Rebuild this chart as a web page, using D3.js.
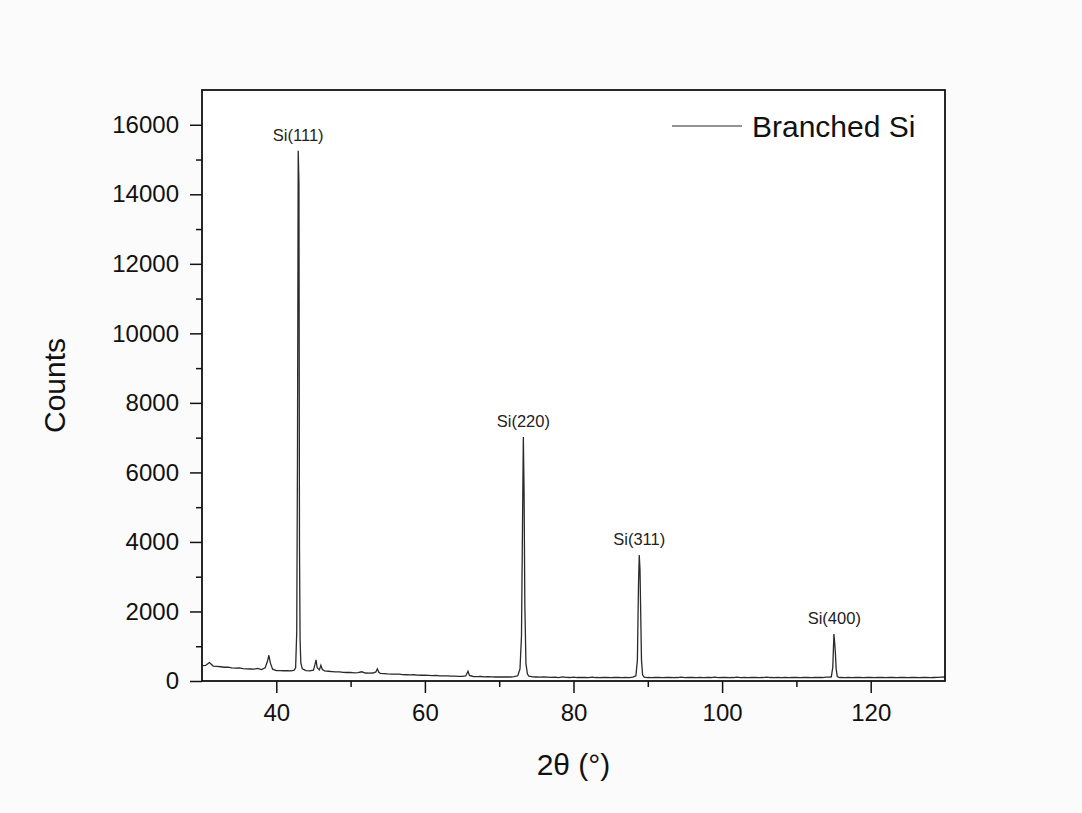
<!DOCTYPE html>
<html><head><meta charset="utf-8">
<script src="https://cdn.jsdelivr.net/npm/d3@7"></script>
<style>html,body{margin:0;padding:0;background:#fbfbfb;}svg{display:block;}</style>
</head><body>
<svg id="chart" width="1082" height="813"></svg>
<script>
// ---- data ----
const twoTheta = [
30.0,30.5,31.0,31.5,32.0,32.5,33.0,33.5,34.0,34.5,35.0,35.5,36.0,36.5,37.0,37.5,38.0,38.5,38.8,39.0,39.2,39.5,
40.0,40.5,41.0,41.5,42.0,42.4,42.6,42.75,42.85,42.95,43.05,43.12,43.2,43.3,43.5,44.0,44.5,45.0,45.2,45.35,45.5,45.8,46.0,46.2,46.5,
47.0,47.5,48.0,48.5,49.0,49.5,50.0,50.5,51.0,51.5,52.0,52.5,53.0,53.4,53.6,53.8,54.0,54.5,55.0,55.5,56.0,56.5,57.0,57.5,58.0,58.5,59.0,59.5,
60.0,60.5,61.0,61.5,62.0,62.5,63.0,63.5,64.0,64.5,65.0,65.5,65.8,66.0,66.5,67.0,67.5,68.0,68.5,69.0,69.5,70.0,70.5,71.0,71.5,72.0,72.5,72.8,
73.0,73.15,73.25,73.35,73.45,73.6,73.8,74.0,74.5,75.0,75.5,76.0,76.5,77.0,77.5,78.0,78.5,79.0,79.5,
80.0,80.5,81.0,81.5,82.0,82.5,83.0,83.5,84.0,84.5,85.0,85.5,86.0,86.5,87.0,87.5,88.0,88.4,88.6,88.75,88.85,88.95,89.05,89.15,89.3,89.5,
90.0,90.5,91.0,91.5,92.0,92.5,93.0,93.5,94.0,94.5,95.0,95.5,96.0,96.5,97.0,97.5,98.0,98.5,99.0,99.5,
100.0,100.5,101.0,101.5,102.0,102.5,103.0,103.5,104.0,104.5,105.0,105.5,106.0,106.5,107.0,107.5,108.0,108.5,109.0,109.5,
110.0,110.5,111.0,111.5,112.0,112.5,113.0,113.5,114.0,114.5,114.7,114.9,115.05,115.15,115.25,115.35,115.5,115.8,
116.0,116.5,117.0,117.5,118.0,118.5,119.0,119.5,120.0,120.5,121.0,121.5,122.0,122.5,123.0,123.5,124.0,124.5,
125.0,125.5,126.0,126.5,127.0,127.5,128.0,128.5,129.0,129.5,130.0
];
const counts = [
440,450,530,430,420,410,395,400,380,370,375,355,350,345,340,360,330,380,560,740,520,340,
300,300,295,300,290,310,380,1400,6400,15250,14300,3900,1200,520,350,300,290,310,470,610,380,320,450,330,290,
280,270,260,265,250,245,250,235,240,265,230,225,230,260,350,250,220,215,205,200,195,200,185,180,175,180,170,165,
165,160,155,160,150,145,150,140,140,135,135,145,280,160,130,125,130,120,125,120,115,120,115,120,115,125,150,350,
1300,4800,7020,5400,2200,500,200,140,120,115,110,115,110,105,110,100,120,105,100,
110,100,105,100,95,110,100,95,105,100,95,100,105,95,100,95,110,150,600,2800,3620,3200,1900,600,180,110,
100,95,105,100,95,100,105,95,100,110,95,100,105,95,100,95,105,100,110,95,
100,105,95,100,110,95,100,95,105,100,95,100,110,100,95,105,95,100,95,105,
100,95,100,105,95,100,105,100,110,115,120,400,1350,1100,800,350,130,100,
105,95,100,95,105,100,95,100,105,95,100,100,95,105,100,95,100,105,
95,100,100,95,105,100,95,100,105,110,115
];
const peakLabels = ["Si(111)","Si(220)","Si(311)","Si(400)"];
const peakTheta  = [42.95, 73.25, 88.85, 115.1];
const peakCounts = [15250, 7020, 3620, 1350];
const xTicks = [40,60,80,100,120];
const yTicks = [0,2000,4000,6000,8000,10000,12000,14000,16000];
const seriesName = "Branched Si";

// ---- drawing ----
const svg = d3.select("#chart");
const m = {left:202, top:90, right:1082-945, bottom:813-681};
const W = 1082 - m.left - m.right, H = 813 - m.top - m.bottom;
const font = "'Liberation Sans', Arial, sans-serif";
const g = svg.append("g").attr("transform",`translate(${m.left},${m.top})`);

const x = d3.scaleLinear().domain([30,130]).range([0,W]);
const y = d3.scaleLinear().domain([0,17000]).range([H,0]);

g.append("rect").attr("width",W).attr("height",H).attr("fill","#ffffff");

const data = twoTheta.map((t,i)=>({t, c:counts[i]}));
g.append("path").datum(data)
  .attr("fill","none").attr("stroke","#2a2a2a").attr("stroke-width",1.3)
  .attr("d", d3.line().x(d=>x(d.t)).y(d=>y(d.c)));

// minor ticks
const xMinor = d3.range(30,131,10).filter(v=>!xTicks.includes(v) && v>30 && v<130);
g.append("g").attr("transform",`translate(0,${H})`)
  .call(d3.axisBottom(x).tickValues(xMinor).tickSize(6).tickFormat(""))
  .call(a=>a.select(".domain").remove())
  .selectAll("line").attr("stroke","#111").attr("stroke-width",1.5);
const yMinor = d3.range(1000,17000,2000);
g.append("g")
  .call(d3.axisLeft(y).tickValues(yMinor).tickSize(6).tickFormat(""))
  .call(a=>a.select(".domain").remove())
  .selectAll("line").attr("stroke","#111").attr("stroke-width",1.5);

// major axes
const xa = g.append("g").attr("transform",`translate(0,${H})`)
  .call(d3.axisBottom(x).tickValues(xTicks).tickSize(12).tickPadding(11).tickSizeOuter(0));
const ya = g.append("g")
  .call(d3.axisLeft(y).tickValues(yTicks).tickSize(12).tickPadding(11).tickSizeOuter(0).tickFormat(d3.format("d")));
[xa,ya].forEach(a=>{
  a.select(".domain").remove();
  a.selectAll("line").attr("stroke","#111").attr("stroke-width",1.5);
  a.selectAll("text").attr("font-family",font).attr("font-size",24).attr("fill","#111");
});

// frame
g.append("rect").attr("width",W).attr("height",H)
  .attr("fill","none").attr("stroke","#111").attr("stroke-width",1.8);

// peak labels
g.selectAll(".pk").data(peakLabels).join("text")
  .attr("x",(d,i)=>x(peakTheta[i]))
  .attr("y",(d,i)=>y(peakCounts[i]) - 10)
  .attr("text-anchor","middle")
  .attr("font-family",font).attr("font-size",16.5).attr("fill","#222")
  .text(d=>d);

// legend
g.append("line").attr("x1",672-202).attr("x2",742-202)
  .attr("y1",126-90).attr("y2",126-90).attr("stroke","#2a2a2a").attr("stroke-width",1.2);
g.append("text").attr("x",752-202).attr("y",126-90).attr("dy","0.36em")
  .attr("font-family",font).attr("font-size",30).attr("fill","#111").text(seriesName);

// axis titles
svg.append("text").attr("x",m.left+W/2).attr("y",775)
  .attr("text-anchor","middle").attr("font-family",font).attr("font-size",30).attr("fill","#111")
  .text("2θ (°)");
svg.append("text").attr("transform",`translate(65,${m.top+H/2}) rotate(-90)`)
  .attr("text-anchor","middle").attr("font-family",font).attr("font-size",30).attr("fill","#111")
  .text("Counts");
</script>
</body></html>
